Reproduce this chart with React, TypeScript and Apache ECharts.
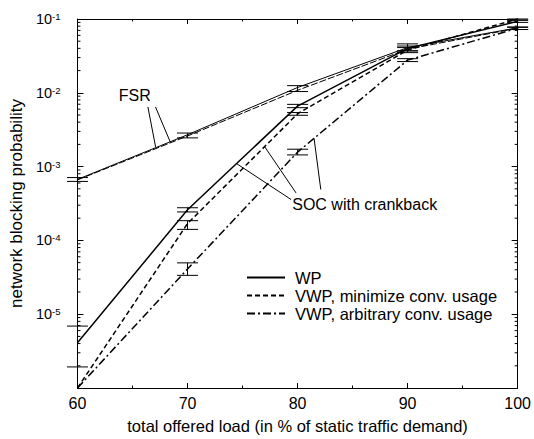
import React, { useEffect, useRef } from 'react';
import * as echarts from 'echarts';

// ---- data ----
const loads = [60, 70, 80, 90, 100];
const fsrWP = [6.7e-4, 2.7e-3, 1.18e-2, 4.1e-2, 7.6e-2];
const fsrVWP = [6.6e-4, 2.6e-3, 1.08e-2, 3.9e-2, 7.5e-2];
const socWP = [4.1e-6, 2.6e-4, 6.6e-3, 4.0e-2, 9.3e-2];
const socVWPmin = [1e-6, 1.69e-4, 5.2e-3, 3.8e-2, 1.0e-1];
const socVWParb = [1e-6, 4.1e-5, 1.57e-3, 2.77e-2, 7.5e-2];

// error bars: [load, low, high]
const errFSR = [[60, 6.3e-4, 7.1e-4], [70, 2.45e-3, 2.85e-3], [80, 1.04e-2, 1.25e-2], [90, 3.7e-2, 4.6e-2], [100, 7.2e-2, 7.8e-2]];
const errWP = [[60, 1.93e-6, 6.9e-6], [70, 2.43e-4, 2.77e-4], [80, 6.29e-3, 6.97e-3], [90, 3.7e-2, 4.3e-2], [100, 9.0e-2, 9.6e-2]];
const errVWPmin = [[70, 1.41e-4, 1.85e-4], [80, 4.96e-3, 5.4e-3], [90, 3.5e-2, 4.1e-2], [100, 9.7e-2, 1.0e-1]];
const errVWParb = [[70, 3.36e-5, 4.96e-5], [80, 1.44e-3, 1.72e-3], [90, 2.65e-2, 2.9e-2], [100, 7.2e-2, 7.7e-2]];

// axis ticks
const xMin = 60;
const xMax = 100;
const yMin = 1e-6;
const yMax = 1e-1;
const yLabelExponents = [-1, -2, -3, -4, -5];
const yMinorMantissas = [2, 3, 4, 5, 6, 7, 8, 9];
const yMinorDecades = [-6, -5, -4, -3, -2];

// annotations
const fsrLabel = { text: 'FSR', pos: [65.2, 9.1e-3] };
const fsrLeaders = [
  [[66.4, 6.43e-3], [67.1, 1.85e-3]],
  [[67.09, 6.43e-3], [68.44, 2.14e-3]],
];
const socLabel = { text: 'SOC with crankback', pos: [86.1, 3.04e-4] };
const socLeaders = [
  [[79.41, 3.58e-4], [74.45, 1.1e-3]],
  [[79.86, 4.4e-4], [77.0, 1.87e-3]],
  [[82.11, 4.89e-4], [81.5, 2.41e-3]],
];

const legendNames = ['WP', 'VWP, minimize conv. usage', 'VWP, arbitrary conv. usage'];

const FONT = '"Liberation Sans", Arial, Helvetica, sans-serif';

function pairs(xs: number[], ys: number[]) {
  return xs.map((x, i) => [x, ys[i]]);
}

function errRender(params: any, api: any) {
  const x = api.value(0);
  const lo = api.coord([x, api.value(1)]);
  const hi = api.coord([x, api.value(2)]);
  const hw = 10.5;
  const style = { stroke: '#000', lineWidth: 1 };
  return {
    type: 'group',
    children: [
      { type: 'line', shape: { x1: lo[0] - hw, y1: lo[1], x2: lo[0] + hw, y2: lo[1] }, style },
      { type: 'line', shape: { x1: hi[0] - hw, y1: hi[1], x2: hi[0] + hw, y2: hi[1] }, style },
      { type: 'line', shape: { x1: lo[0], y1: lo[1], x2: hi[0], y2: hi[1] }, style },
    ],
  };
}

function minorTickRender(params: any, api: any) {
  const v = api.value(1);
  const pl = api.coord([xMin, v]);
  const pr = api.coord([xMax, v]);
  const style = { stroke: '#000', lineWidth: 1 };
  return {
    type: 'group',
    children: [
      { type: 'line', shape: { x1: pl[0], y1: pl[1], x2: pl[0] + 3, y2: pl[1] }, style },
      { type: 'line', shape: { x1: pr[0] - 3, y1: pr[1], x2: pr[0], y2: pr[1] }, style },
    ],
  };
}

function errSeries(name: string, data: number[][]) {
  return {
    name,
    type: 'custom',
    renderItem: errRender,
    data,
    encode: { x: 0, y: [1, 2] },
    clip: false,
    silent: true,
    z: 3,
  };
}

export default function App() {
  const ref = useRef<HTMLDivElement>(null);

  useEffect(() => {
    if (!ref.current) return;
    const chart = echarts.init(ref.current, null, { renderer: 'svg' });

    const minorTicks: number[][] = [];
    yMinorDecades.forEach((d) => {
      yMinorMantissas.forEach((m) => minorTicks.push([xMin, m * Math.pow(10, d)]));
    });

    const axisLine = { show: true, onZero: false, lineStyle: { color: '#000', width: 1 } };

    const xAxisCommon = {
      type: 'value',
      min: xMin,
      max: xMax,
      interval: 10,
      splitLine: { show: false },
      axisLine,
      axisTick: { show: true, inside: true, length: 5, lineStyle: { color: '#000' } },
      minorTick: { show: true, splitNumber: 2, length: 2.5, lineStyle: { color: '#000' } },
      minorSplitLine: { show: false },
    };

    const yAxisCommon = {
      type: 'log',
      logBase: 10,
      min: yMin,
      max: yMax,
      splitLine: { show: false },
      axisLine,
      axisTick: { show: true, inside: true, length: 6, lineStyle: { color: '#000' } },
    };

    const lineSeries = (name: string, ys: number[], width: number, dash: any, extra: any = {}) => ({
      name,
      type: 'line',
      data: pairs(loads, ys),
      symbol: 'none',
      lineStyle: { color: '#000', width, type: dash },
      itemStyle: { color: '#000' },
      clip: false,
      z: 4,
      ...extra,
    });

    const markLineFrom = (segs: number[][][]) => ({
      silent: true,
      symbol: ['none', 'none'],
      label: { show: false },
      lineStyle: { color: '#000', width: 1, type: 'solid' },
      data: segs.map((s) => [{ coord: s[0] }, { coord: s[1] }]),
    });

    const markPointFrom = (lbl: { text: string; pos: number[] }) => ({
      silent: true,
      symbol: 'circle',
      symbolSize: 0,
      label: {
        show: true,
        position: 'inside',
        formatter: lbl.text,
        color: '#000',
        fontSize: 16,
        fontFamily: FONT,
      },
      data: [{ coord: lbl.pos }],
    });

    chart.setOption({
      animation: false,
      backgroundColor: '#fff',
      textStyle: { fontFamily: FONT, color: '#000' },
      grid: { left: 76, right: 14, top: 19, bottom: 47, containLabel: false },
      legend: {
        data: legendNames,
        orient: 'vertical',
        left: 241,
        top: 264,
        itemWidth: 38,
        itemHeight: 14,
        itemGap: 1,
        selectedMode: false,
        itemStyle: { opacity: 0 },
        textStyle: { fontSize: 16.5, color: '#000', fontFamily: FONT, padding: [0, 0, 0, 5] },
      },
      xAxis: [
        {
          ...xAxisCommon,
          position: 'bottom',
          name: 'total offered load (in % of static traffic demand)',
          nameLocation: 'middle',
          nameGap: 29,
          nameTextStyle: { fontSize: 16.5, color: '#000', fontFamily: FONT },
          axisLabel: { show: true, margin: 7, fontSize: 16, color: '#000', fontFamily: FONT },
        },
        {
          ...xAxisCommon,
          position: 'top',
          axisLabel: { show: false },
        },
      ],
      yAxis: [
        {
          ...yAxisCommon,
          position: 'left',
          name: 'network blocking probability',
          nameLocation: 'middle',
          nameRotate: 90,
          nameGap: 51,
          nameTextStyle: { fontSize: 17, color: '#000', fontFamily: FONT },
          axisLabel: {
            show: true,
            margin: 17,
            formatter: (v: number) => {
              const e = Math.round(Math.log10(v));
              if (!yLabelExponents.includes(e)) return '';
              return `{b|10}{s|${e}}`;
            },
            rich: {
              b: { fontSize: 14.5, lineHeight: 15, verticalAlign: 'bottom', color: '#000', fontFamily: FONT },
              s: { fontSize: 9.5, lineHeight: 10, verticalAlign: 'top', padding: [0, 0, 8, 0], color: '#000', fontFamily: FONT },
            },
          },
        },
        {
          ...yAxisCommon,
          position: 'right',
          axisLabel: { show: false },
        },
      ],
      series: [
        {
          name: 'minorTicks',
          type: 'custom',
          renderItem: minorTickRender,
          data: minorTicks,
          encode: { x: 0, y: 1 },
          clip: false,
          silent: true,
          z: 2,
        },
        lineSeries('FSR WP', fsrWP, 1, 'solid', { markLine: markLineFrom(fsrLeaders), markPoint: markPointFrom(fsrLabel) }),
        lineSeries('FSR VWP', fsrVWP, 1, [7, 2]),
        lineSeries('WP', socWP, 1.5, 'solid', { markLine: markLineFrom(socLeaders), markPoint: markPointFrom(socLabel) }),
        lineSeries('VWP, minimize conv. usage', socVWPmin, 1.5, [5, 3]),
        lineSeries('VWP, arbitrary conv. usage', socVWParb, 1.5, [8, 3, 2, 3]),
        errSeries('errFSR', errFSR),
        errSeries('errWP', errWP),
        errSeries('errVWPmin', errVWPmin),
        errSeries('errVWParb', errVWParb),
      ],
    });

    return () => chart.dispose();
  }, []);

  return (
    <div
      ref={ref}
      style={{ position: 'fixed', left: 0, top: 0, width: 534, height: 439, background: '#fff' }}
    />
  );
}
